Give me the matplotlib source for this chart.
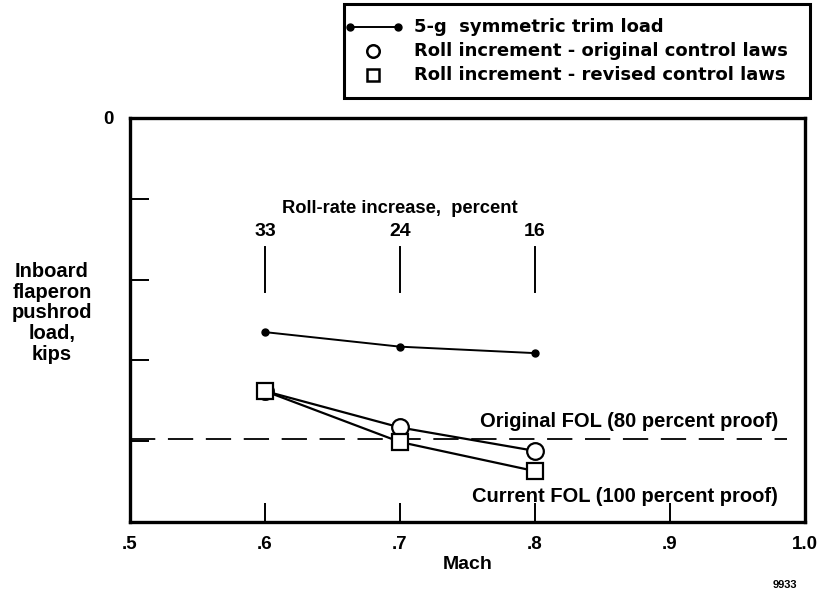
import matplotlib
matplotlib.use("Agg")
import matplotlib.pyplot as plt
from matplotlib.lines import Line2D
from matplotlib.patches import Rectangle

plt.rcParams['font.family'] = ['Liberation Sans', 'DejaVu Sans']
plt.rcParams['font.weight'] = 'bold'

mach = [0.6, 0.7, 0.8]
trim_load = [-2.65, -2.83, -2.91]
roll_original = [-3.38, -3.83, -4.12]
roll_revised = [-3.38, -4.01, -4.37]
roll_rate_pct = ["33", "24", "16"]
fol_original = -3.97
x_ticks = [0.5, 0.6, 0.7, 0.8, 0.9, 1.0]
x_tick_labels = [".5", ".6", ".7", ".8", ".9", "1.0"]
y_ticks = [0, -1, -2, -3, -4]
y_tick_labels = ["0", "", "", "", ""]
legend_labels = ["5-g  symmetric trim load",
                 "Roll increment - original control laws",
                 "Roll increment - revised control laws"]

W, H = 822, 594
fig = plt.figure(figsize=(W / 100, H / 100), dpi=100)


def fx(px):
    return px / W


def fy(py):
    return 1 - py / H


ax = fig.add_axes([fx(130), fy(522), (805 - 130) / W, (522 - 118) / H])
ax.set_xlim(0.5, 1.0)
ax.set_ylim(-5, 0)

ax.plot(mach, trim_load, color='black', lw=1.4, marker='o', ms=5)
ax.plot(mach, roll_original, color='black', lw=1.6, marker='o', ms=12,
        mfc='white', mec='black', mew=1.6)
ax.plot(mach, roll_revised, color='black', lw=1.6, marker='s', ms=12,
        mfc='white', mec='black', mew=1.6, zorder=3)

ax.plot([0.5, 0.987], [fol_original, fol_original], color='black', lw=1.3,
        dashes=(14, 7), zorder=1)

ax.set_xticks(x_ticks)
ax.set_xticklabels(x_tick_labels, fontsize=13.5, fontweight='bold')
ax.set_yticks(y_ticks)
ax.set_yticklabels(y_tick_labels, fontsize=13.5, fontweight='bold')
ax.tick_params(direction='in', length=14, width=1.4, pad=10)
ax.tick_params(axis='y', pad=12)
for s in ax.spines.values():
    s.set_linewidth(2.4)

# Roll-rate annotation
ax.text(0.7, -1.12, "Roll-rate increase,  percent", ha='center', va='center',
        fontsize=13.2, fontweight='bold')
for m, p in zip(mach, roll_rate_pct):
    ax.text(m, -1.4, p, ha='center', va='center', fontsize=14, fontweight='bold')
    ax.plot([m, m], [-1.6, -2.15], color='black', lw=1.4)

ax.text(0.98, -3.75, "Original FOL (80 percent proof)", ha='right', va='center',
        fontsize=14.5, fontweight='bold')
ax.text(0.98, -4.68, "Current FOL (100 percent proof)", ha='right', va='center',
        fontsize=14.5, fontweight='bold')

ax.set_xlabel("Mach", fontsize=14, fontweight='bold', labelpad=2)
fig.text(fx(52), fy(313), "Inboard\nflaperon\npushrod\nload,\nkips", ha='center',
         va='center', fontsize=14.5, fontweight='bold', linespacing=1.12)
fig.text(fx(785), fy(585), "9933", ha='center', va='center', fontsize=8,
         fontweight='bold')

# Manual legend
box_l, box_r, box_t, box_b = 344, 810, 4, 98
fig.patches.append(Rectangle((fx(box_l), fy(box_b)), (box_r - box_l) / W,
                             (box_b - box_t) / H, transform=fig.transFigure,
                             fill=False, ec='black', lw=2.2))
rows = [27, 51, 75]
fig.add_artist(Line2D([fx(350), fx(398)], [fy(rows[0]), fy(rows[0])], color='black',
                      lw=1.4, marker='o', ms=5, transform=fig.transFigure))
fig.add_artist(Line2D([fx(373)], [fy(rows[1])], color='none', marker='o', ms=9,
                      mfc='white', mec='black', mew=1.8, transform=fig.transFigure))
fig.add_artist(Line2D([fx(373)], [fy(rows[2])], color='none', marker='s', ms=8.5,
                      mfc='white', mec='black', mew=1.8, transform=fig.transFigure))
for r, lab in zip(rows, legend_labels):
    fig.text(fx(414), fy(r), lab, ha='left', va='center', fontsize=13,
             fontweight='bold', family=['DejaVu Sans'])

fig.savefig("out.png", dpi=100)
